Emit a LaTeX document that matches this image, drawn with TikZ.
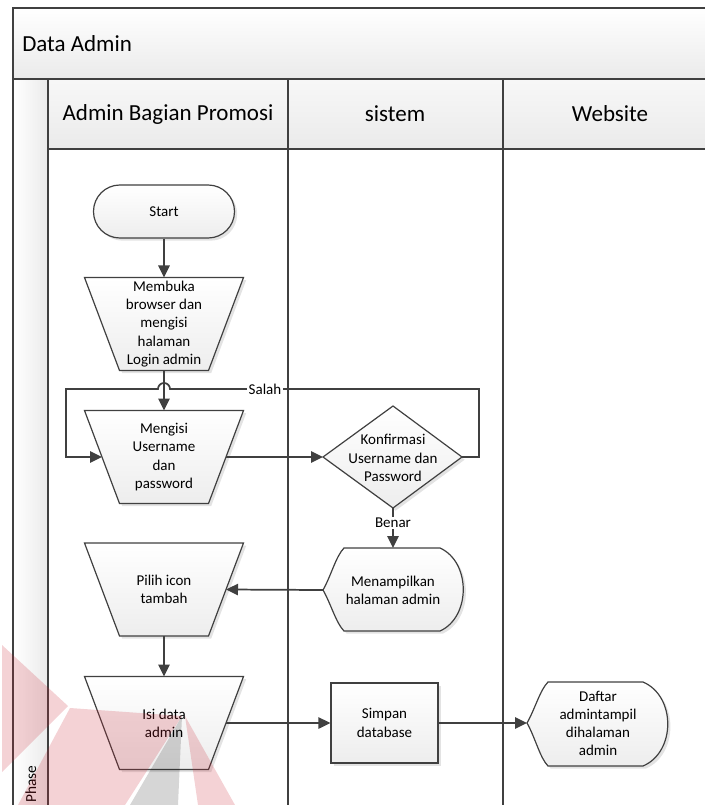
\documentclass[tikz,border=0pt]{standalone}
\usepackage{fontspec}
\setmainfont{Carlito}
\usetikzlibrary{arrows.meta,shadows}
\definecolor{ln}{HTML}{404040}
\definecolor{wm}{RGB}{200,30,45}
\tikzset{
  lane/.style={draw=ln, line width=1.2pt},
  shp/.style={draw=ln, line width=0.9pt, top color=white, bottom color=black!7,
    drop shadow={opacity=0.22, shadow xshift=2pt, shadow yshift=-2pt}},
  txt/.style={align=center, font=\fontsize{11.25}{13.7}\selectfont, inner sep=0pt},
  con/.style={draw=ln, line width=1.3pt},
  arr/.style={con, -{Triangle[length=9pt,width=8.5pt]}},
  lbl/.style={fill=white, inner sep=1pt, font=\fontsize{11.25}{13.7}\selectfont},
  hdr/.style={font=\fontsize{17.25}{20}\selectfont, inner sep=0pt}
}
\newcommand\manop[3]{%
  \path[shp] (84.5,#2-46.5) -- (243.5,#2-46.5) -- (208.5,#2+46.5) -- (119.5,#2+46.5) -- cycle;
  \node[txt] (#1) at (164,#2) {#3};
  \coordinate (#1-n) at (164,#2-46.5);
  \coordinate (#1-s) at (164,#2+46.5);
  \coordinate (#1-w) at (102,#2);
  \coordinate (#1-e) at (226,#2);
}
\begin{document}
\begin{tikzpicture}[x=0.75pt,y=-0.75pt]
\useasboundingbox (0,0) rectangle (705,805);
\clip (0,0) rectangle (705,805);
% pool background
\shade[top color=white, bottom color=black!8] (13,8) rectangle (720,79);
\shade[top color=white!97!black, bottom color=black!8] (48,79) rectangle (720,149);
\shade[left color=white, right color=black!8] (13,79) rectangle (48,820);
% pool lines
\draw[lane] (720,8) -- (13,8) -- (13,820);
\draw[lane] (13,79) -- (720,79);
\draw[lane] (48,149) -- (720,149);
\draw[lane] (48,79) -- (48,820);
\draw[lane] (288,79) -- (288,820);
\draw[lane] (503,79) -- (503,820);
% texts of pool
\node[hdr, anchor=west] (title) at (22,44) {Data Admin};
\node[hdr] (h1) at (168,114) {Admin Bagian Promosi};
\node[hdr] (h2) at (395,114) {sistem};
\node[hdr] (h3) at (610,114) {Website};
\node[font=\fontsize{11.5}{14}\selectfont, rotate=90, anchor=base west, inner sep=0pt] (phase) at (36,803) {Phase};
% shapes
\node[shp, rounded corners=19.8pt, minimum width=105.75pt, minimum height=39.75pt, txt] (start) at (164,211.5) {Start};
\manop{m1}{324}{Membuka\\browser dan\\mengisi\\halaman\\Login admin}
\manop{m2}{457}{Mengisi\\Username\\dan\\password}
\manop{m3}{589.5}{Pilih icon\\tambah}
\manop{m4}{723}{Isi data\\admin}
% decision
\path[shp] (323,457) -- (393,406) -- (462,457) -- (393,508) -- cycle;
\node[txt] (konf) at (393,458) {Konfirmasi\\Username dan\\Password};
\coordinate (konf-w) at (323,457);
\coordinate (konf-e) at (462,457);
\coordinate (konf-s) at (393,508);
% display Menampilkan
\path[shp] (323,590) .. controls (331,576) and (336,556) .. (344,548) -- (440,548)
  .. controls (471,562) and (471,617) .. (440,631) -- (344,631)
  .. controls (336,623) and (331,604) .. (323,590) -- cycle;
\node[txt] (tamp) at (393,590) {Menampilkan\\halaman admin};
\coordinate (tamp-n) at (393,548);
\coordinate (tamp-w) at (323,590);
% process Simpan
\node[shp, txt, minimum width=80.25pt, minimum height=60pt] (simpan) at (384.5,723) {Simpan\\database};
% display Daftar
\path[shp] (527,723) .. controls (535,709) and (540,690) .. (548,682) -- (643,682)
  .. controls (676,696) and (676,752) .. (643,766) -- (548,766)
  .. controls (540,758) and (535,737) .. (527,723) -- cycle;
\node[txt] (daftar) at (598,723.5) {Daftar\\admintampil\\dihalaman\\admin};
\coordinate (daftar-w) at (527,723);
% connectors
\coordinate (lr) at (479,389);
\coordinate (hopR) at (170,389);
\coordinate (ll) at (66,389);
\draw[arr] (start.south) -- (m1-n);
\draw[arr] (m1-s) -- (m2-n);
\draw[arr] (m2-e) -- (konf-w);
\draw[arr] (konf-e) -| (lr) -- (hopR) arc[start angle=0, end angle=-180, radius=6] -- (ll) |- (m2-w);
\node[lbl] (salah) at (265,389) {Salah};
\draw[arr] (konf-s) -- (tamp-n);
\node[lbl] (benar) at (393,523) {Benar};
\draw[arr] (tamp-w) -- (m3-e);
\draw[arr] (m3-s) -- (m4-n);
\draw[arr] (m4-e) -- (simpan.west);
\draw[arr] (simpan.east) -- (daftar-w);
% watermark
\begin{scope}[opacity=0.2]
\fill[wm] (2,645) -- (68,706) -- (2,772) -- cycle;
\fill[wm] (70,708) -- (182,716) -- (125,805) -- (18,805) -- cycle;
\fill[wm] (185,716) -- (235,805) -- (198,805) -- cycle;
\end{scope}
\fill[black, opacity=0.16] (182,716) -- (178,805) -- (130,805) -- cycle;
\end{tikzpicture}
\end{document}
